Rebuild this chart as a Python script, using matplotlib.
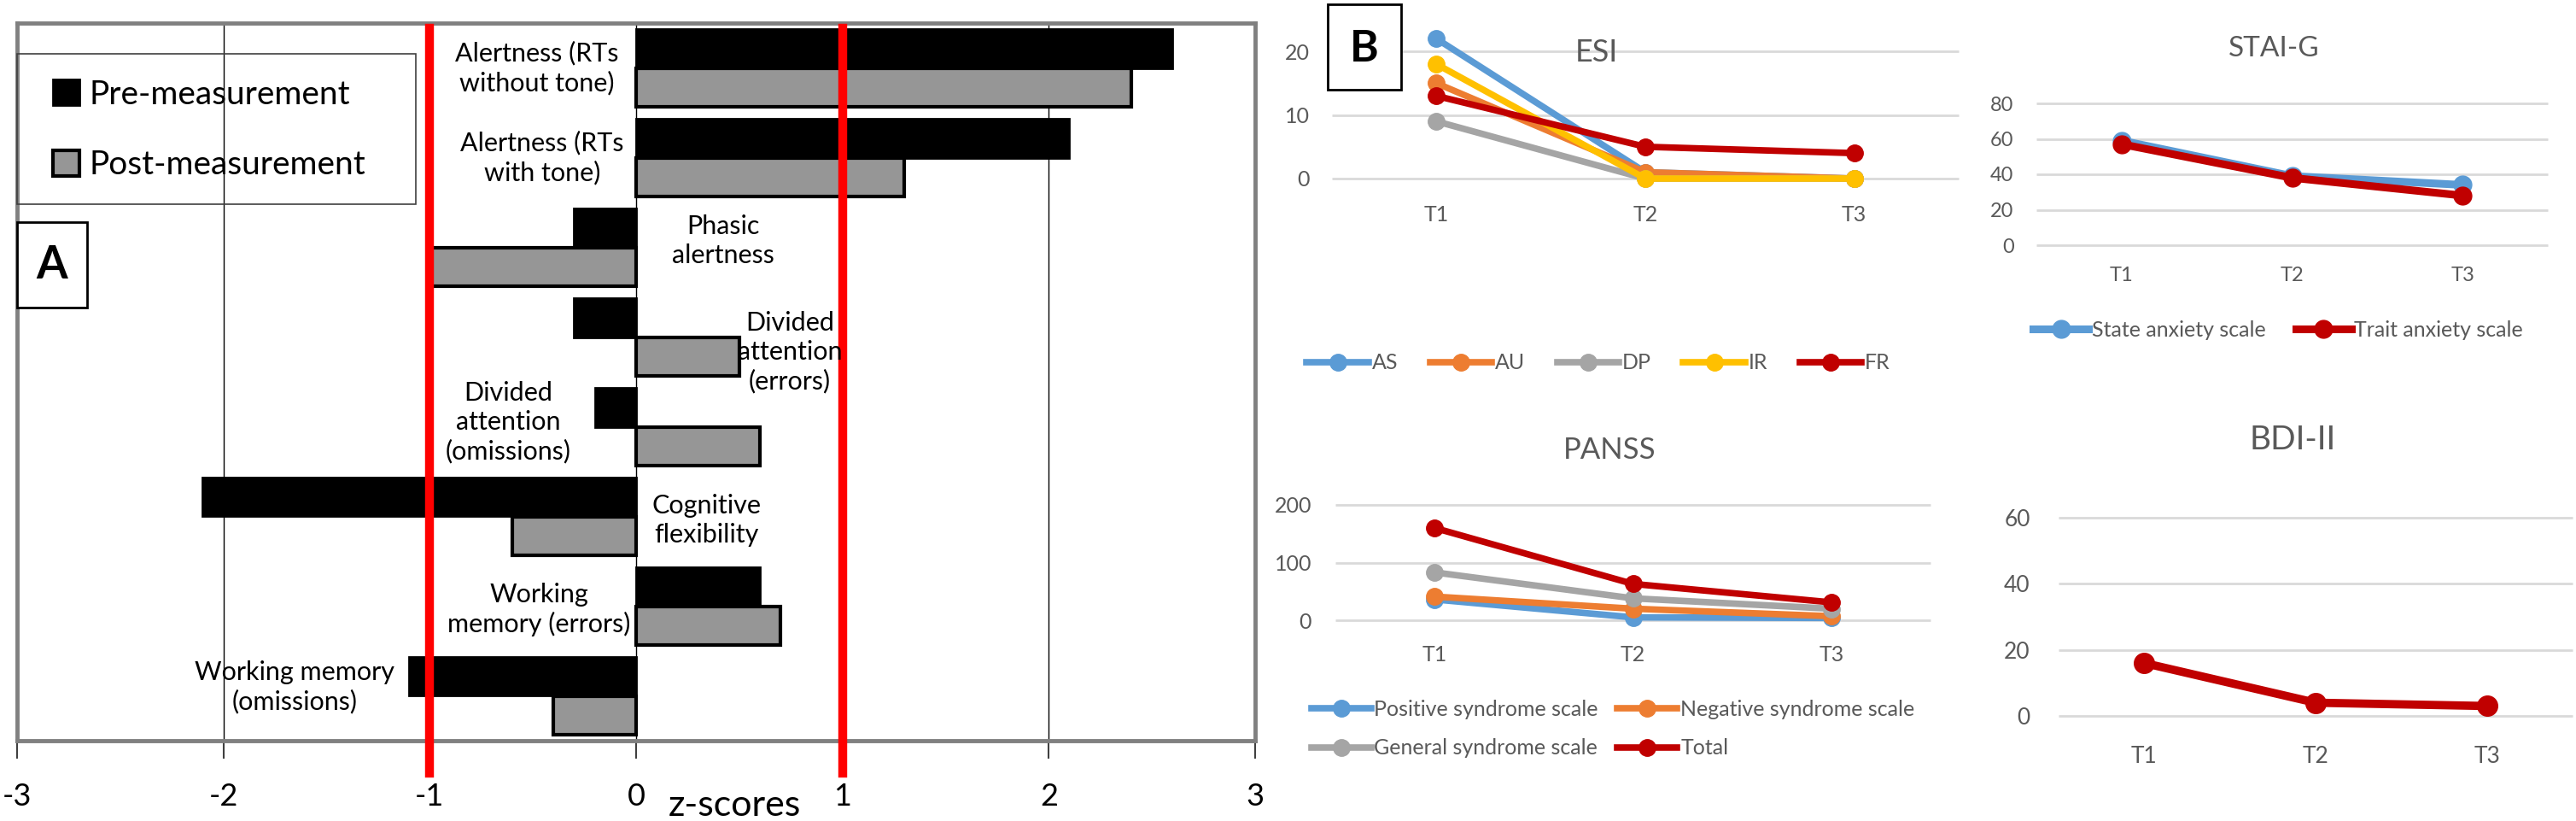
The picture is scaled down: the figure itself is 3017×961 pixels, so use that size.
import numpy as np
import matplotlib
matplotlib.use('Agg')
import matplotlib.pyplot as plt
from matplotlib.patches import Rectangle
from matplotlib.transforms import blended_transform_factory

plt.rcParams['font.family'] = ['Lato', 'DejaVu Sans']
plt.rcParams['axes.unicode_minus'] = False

W, H = 3017, 961

# ---- panel A data (z-scores) ----
categories = ['Alertness (RTs\nwithout tone)', 'Alertness (RTs\nwith tone)', 'Phasic\nalertness',
              'Divided\nattention\n(errors)', 'Divided\nattention\n(omissions)',
              'Cognitive\nflexibility', 'Working\nmemory (errors)', 'Working memory\n(omissions)']
pre_scores = [2.6, 2.1, -0.3, -0.3, -0.2, -2.1, 0.6, -1.1]
post_scores = [2.4, 1.3, -1.0, 0.5, 0.6, -0.6, 0.7, -0.4]
z_ticks = [-3, -2, -1, 0, 1, 2, 3]
cutoffs = [-1, 1]
series_a = ['Pre-measurement', 'Post-measurement']

# where each category name sits inside the plot (x in z, y in category index)
label_pos = [(-0.48, 0.0), (-0.455, 1.0), (0.42, 1.93), (0.745, 3.17),
             (-0.62, 3.95), (0.34, 5.04), (-0.47, 6.04), (-1.655, 6.9)]

# ---- panel B data ----
timepoints = ['T1', 'T2', 'T3']
esi_names = ['AS', 'AU', 'DP', 'IR', 'FR']
esi_values = [[22, 1, 0], [15, 1, 0], [9, 0, 0], [18, 0, 0], [13, 5, 4]]
stai_names = ['State anxiety scale', 'Trait anxiety scale']
stai_values = [[59, 39, 34], [57, 38, 28]]
panss_names = ['Positive syndrome scale', 'Negative syndrome scale',
               'General syndrome scale', 'Total']
panss_values = [[36, 5, 4], [41, 20, 7], [83, 38, 20], [160, 63, 31]]
bdi_names = ['BDI-II']
bdi_values = [[16, 4, 3]]

BLUE, ORANGE, GRAY, YELLOW, RED = '#5B9BD5', '#ED7D31', '#A5A5A5', '#FFC000', '#C00000'
TXT = '#595959'


def px_axes(x0, y0, x1, y1):
    return fig.add_axes([x0 / W, 1 - y1 / H, (x1 - x0) / W, (y1 - y0) / H])


def fx(x):
    return x / W


def fy(y):
    return 1 - y / H


fig = plt.figure(figsize=(W / 100, H / 100), dpi=100)

# ================= panel A =================
ax = px_axes(20, 27, 1470, 867)
y = np.arange(len(categories))
bh = 0.435
pre = ax.barh(y - bh / 2, pre_scores, height=bh, color='black', edgecolor='black', lw=2, zorder=3)
post = ax.barh(y + bh / 2, post_scores, height=bh, color='#969696', edgecolor='black', lw=3, zorder=3)
ax.set_xlim(-3, 3)
ax.set_ylim(len(categories) - 0.5, -0.5)
ax.set_yticks([])
ax.set_xticks(z_ticks, [str(t) for t in z_ticks])
ax.tick_params(axis='x', length=15, width=1.5, color='#404040', labelsize=26, pad=20)
for t in z_ticks[1:-1]:
    ax.axvline(t, color='black', lw=1.0, zorder=1)
for s in ax.spines.values():
    s.set_color('#808080')
    s.set_linewidth(3.5)

tr = blended_transform_factory(ax.transData, ax.transAxes)
for c in cutoffs:
    ax.plot([c, c], [-0.045, 0.993], color='#FF0000', lw=7.5, transform=tr, clip_on=False, zorder=6)

for name, (lx, ly) in zip(categories, label_pos):
    ax.text(lx, ly, name, ha='center', va='center', fontsize=22, linespacing=1.25, zorder=7)

fig.text(fx(860), fy(943), 'z-scores', ha='center', va='center', fontsize=31)

# legend box
fig.patches.append(Rectangle((fx(20), fy(239)), (467) / W, (239 - 63) / H, transform=fig.transFigure,
                             fill=False, edgecolor='#404040', lw=1.2))
fig.legend([pre, post], series_a, loc='center left', bbox_to_anchor=(fx(62), fy(152)),
           frameon=False, fontsize=28, handlelength=0.8, handleheight=0.8, handletextpad=0.3,
           labelspacing=1.2, borderpad=0, borderaxespad=0)

# A box
fig.patches.append(Rectangle((fx(20), fy(360)), 82 / W, 100 / H, transform=fig.transFigure,
                             facecolor='white', edgecolor='black', lw=2))
fig.text(fx(61), fy(311), 'A', ha='center', va='center', fontsize=38, fontweight='bold')


# ================= panel B =================
def line_panel(box, series, names, colors, ylim, yticks, lw, ms, fs, ypad, xpad):
    a = px_axes(*box)
    a.hlines(yticks, -0.5, 2.5, color='#d9d9d9', lw=2, clip_on=False, zorder=1)
    for vals, name, c in zip(series, names, colors):
        a.plot(range(len(timepoints)), vals, color=c, lw=lw, marker='o', ms=ms, label=name,
               clip_on=False, zorder=3)
    a.set_xlim(-0.5, 2.5)
    a.set_ylim(*ylim)
    a.set_yticks(yticks)
    a.set_xticks(range(len(timepoints)), timepoints)
    for s in a.spines.values():
        s.set_visible(False)
    a.tick_params(length=0, colors=TXT, labelsize=fs)
    a.tick_params(axis='y', pad=ypad)
    a.tick_params(axis='x', pad=xpad)
    return a


ax_esi = line_panel((1560, 23, 2294, 209), esi_values, esi_names, [BLUE, ORANGE, GRAY, YELLOW, RED],
                    (0, 25), [0, 10, 20], 5.5, 14, 18, 19, 22)
ax_stai = line_panel((2385, 121, 2984, 287), stai_values, stai_names, [BLUE, RED],
                     (0, 80), [0, 20, 40, 60, 80], 6.5, 15, 17, 19, 18)
ax_panss = line_panel((1564, 591, 2261, 726), panss_values, panss_names, [BLUE, ORANGE, GRAY, RED],
                      (0, 200), [0, 100, 200], 5.5, 14, 18, 20, 21)
ax_bdi = line_panel((2411, 606, 3013, 838), bdi_values, bdi_names, [RED],
                    (0, 60), [0, 20, 40, 60], 7, 17, 19, 24, 25)

fig.text(fx(1870), fy(62), 'ESI', ha='center', va='center', fontsize=26, color=TXT)
fig.text(fx(2663), fy(57), 'STAI-G', ha='center', va='center', fontsize=24, color=TXT)
fig.text(fx(1885), fy(527), 'PANSS', ha='center', va='center', fontsize=25, color=TXT)
fig.text(fx(2685), fy(515), 'BDI-II', ha='center', va='center', fontsize=28, color=TXT)

ax_esi.legend(loc='center', bbox_to_anchor=(fx(1872), fy(425)), bbox_transform=fig.transFigure,
              ncol=5, frameon=False, fontsize=18, handlelength=2.9, handletextpad=0.15,
              columnspacing=1.5, labelcolor=TXT)
ax_stai.legend(loc='center', bbox_to_anchor=(fx(2668), fy(386)), bbox_transform=fig.transFigure,
               ncol=2, frameon=False, fontsize=18, handlelength=2.6, handletextpad=0.15,
               columnspacing=1.4, labelcolor=TXT)
# Excel fills the legend row by row, matplotlib column by column
h, l = ax_panss.get_legend_handles_labels()
order = [0, 2, 1, 3]
ax_panss.legend([h[i] for i in order], [l[i] for i in order], loc='center',
                bbox_to_anchor=(fx(1889), fy(853)), bbox_transform=fig.transFigure,
                ncol=2, frameon=False, fontsize=18, handlelength=2.8, handletextpad=0.15,
                columnspacing=0.9, labelspacing=0.9, labelcolor=TXT)

# B box
fig.patches.append(Rectangle((fx(1555), fy(105)), 86 / W, 100 / H, transform=fig.transFigure,
                             facecolor='white', edgecolor='black', lw=2, zorder=10))
fig.text(fx(1598), fy(57), 'B', ha='center', va='center', fontsize=37, fontweight='bold', zorder=11)

fig.savefig('out.png', dpi=100)
